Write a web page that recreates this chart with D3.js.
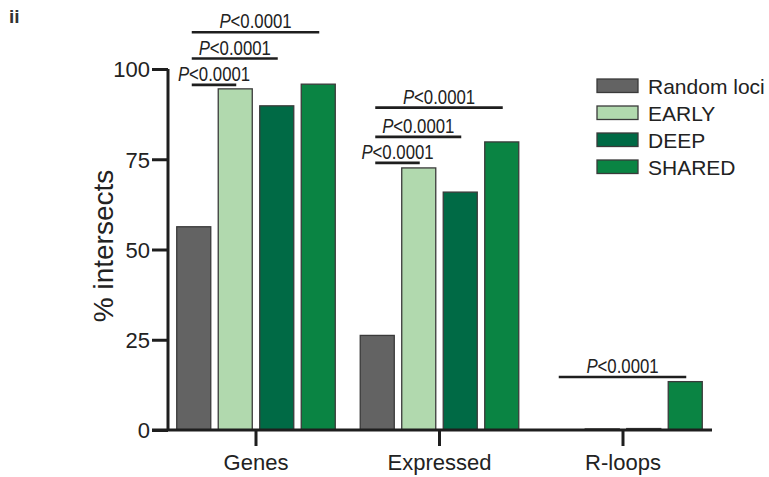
<!DOCTYPE html>
<html>
<head>
<meta charset="utf-8">
<script src="https://cdn.jsdelivr.net/npm/d3@7"></script>
<style>
  html, body { margin: 0; padding: 0; background: #fff; }
  svg { display: block; font-family: "Liberation Sans", Arial, Helvetica, sans-serif; }
</style>
</head>
<body>
<svg id="chart" width="769" height="477"></svg>
<script>
// Categories and series
const groups = ["Genes", "Expressed", "R-loops"];
const series = ["Random loci", "EARLY", "DEEP", "SHARED"];
const seriesColors = ["#636363", "#b1d9ae", "#006a45", "#0a8443"];

// % of loci intersecting each feature, one array per series (Genes, Expressed, R-loops)
const randomLoci = [56.3, 26.2, 0];
const early = [94.5, 72.6, 0.3];
const deep = [89.8, 65.9, 0.4];
const shared = [95.8, 79.8, 13.4];
const values = [randomLoci, early, deep, shared];

// Y axis ticks
const yTicks = [0, 25, 50, 75, 100];

// Significance brackets: group, series from/to, bracket height (% units), label
const bracketGroup = ["Genes", "Genes", "Genes", "Expressed", "Expressed", "Expressed", "R-loops"];
const bracketFrom = [0, 0, 0, 0, 0, 0, 0];
const bracketTo = [1, 2, 3, 1, 2, 3, 3];
const bracketLevel = [95.6, 102.9, 110.2, 74.0, 81.2, 89.3, 14.7];
const bracketLabel = "<0.0001";

const svg = d3.select("#chart");
const ink = "#1e1e1e";
const textInk = "#222";

const y = d3.scaleLinear().domain([0, 100]).range([430, 69]);

const x0 = d3.scaleBand()
  .domain(groups)
  .range([164.25, 714.75])
  .paddingInner(17.5 / 183.5)
  .paddingOuter(8.75 / 183.5);

const x1 = d3.scaleBand()
  .domain(series)
  .range([0, x0.bandwidth()])
  .paddingInner(0.18)
  .paddingOuter(0.09);

// Bars
const bars = [];
groups.forEach((g, gi) => {
  series.forEach((s, si) => {
    bars.push({ group: g, series: s, value: values[si][gi], color: seriesColors[si] });
  });
});

svg.append("g").selectAll("rect")
  .data(bars)
  .join("rect")
  .attr("x", d => x0(d.group) + x1(d.series))
  .attr("width", x1.bandwidth())
  .attr("y", d => y(d.value))
  .attr("height", d => y(0) - y(d.value))
  .attr("fill", d => d.color)
  .attr("stroke", "#3a3a3a")
  .attr("stroke-width", 1.3);

// Y axis
const yAxis = d3.axisLeft(y).tickValues(yTicks).tickSize(16).tickPadding(2).tickFormat(d3.format("d"));
const yg = svg.append("g").attr("transform", "translate(168,0)").call(yAxis);
yg.select(".domain").attr("d", `M0,${y(100)}V${y(0)}`).attr("stroke", ink).attr("stroke-width", 3);
yg.selectAll(".tick line").attr("stroke", ink).attr("stroke-width", 3);
yg.selectAll(".tick text").attr("fill", textInk).style("font-size", "22px").attr("dy", "0.36em");

// X axis
const xAxis = d3.axisBottom(x0).tickSize(16).tickPadding(5).tickSizeOuter(0);
const xg = svg.append("g").attr("transform", `translate(0,${y(0)})`).call(xAxis);
xg.select(".domain").attr("d", "M152,0H712").attr("stroke", ink).attr("stroke-width", 3);
xg.selectAll(".tick line").attr("stroke", ink).attr("stroke-width", 3);
xg.selectAll(".tick text").attr("fill", textInk).style("font-size", "22px").attr("dy", "0.85em");

// Y axis title
svg.append("text")
  .attr("transform", "translate(113,246) rotate(-90)")
  .attr("text-anchor", "middle")
  .attr("fill", textInk)
  .style("font-size", "28px")
  .text("% intersects");

// Panel label
svg.append("text")
  .attr("x", 9).attr("y", 23)
  .attr("fill", "#333")
  .style("font-size", "19px")
  .style("font-weight", "bold")
  .text("ii");

// Significance brackets
const barCenter = (g, si) => x0(g) + x1(series[si]) + x1.bandwidth() / 2;
const brackets = bracketGroup.map((g, i) => ({
  x1: barCenter(g, bracketFrom[i]) - 2,
  x2: barCenter(g, bracketTo[i]) + 1,
  level: bracketLevel[i]
}));

const bg = svg.append("g");
bg.selectAll("line")
  .data(brackets)
  .join("line")
  .attr("x1", d => d.x1)
  .attr("x2", d => d.x2)
  .attr("y1", d => y(d.level))
  .attr("y2", d => y(d.level))
  .attr("stroke", ink)
  .attr("stroke-width", 2.6);

// p-value labels, set in a slightly condensed face
const labels = bg.selectAll("text")
  .data(brackets)
  .join("text")
  .attr("transform", d => `translate(${(d.x1 + d.x2) / 2},${y(d.level) - 4}) scale(0.86,1)`)
  .attr("text-anchor", "middle")
  .attr("fill", textInk)
  .style("font-size", "19.5px");
labels.append("tspan").style("font-style", "italic").text("P");
labels.append("tspan").text(bracketLabel);

// Legend
const legend = svg.append("g").attr("transform", "translate(597,79)");
const items = legend.selectAll("g")
  .data(series)
  .join("g")
  .attr("transform", (d, i) => `translate(0,${i * 27})`);
items.append("rect")
  .attr("width", 41).attr("height", 13.5)
  .attr("fill", (d, i) => seriesColors[i])
  .attr("stroke", "#3a3a3a").attr("stroke-width", 1.3);
items.append("text")
  .attr("x", 51).attr("y", 7).attr("dy", "0.36em")
  .attr("fill", textInk)
  .style("font-size", "21px")
  .text(d => d);
</script>
</body>
</html>
